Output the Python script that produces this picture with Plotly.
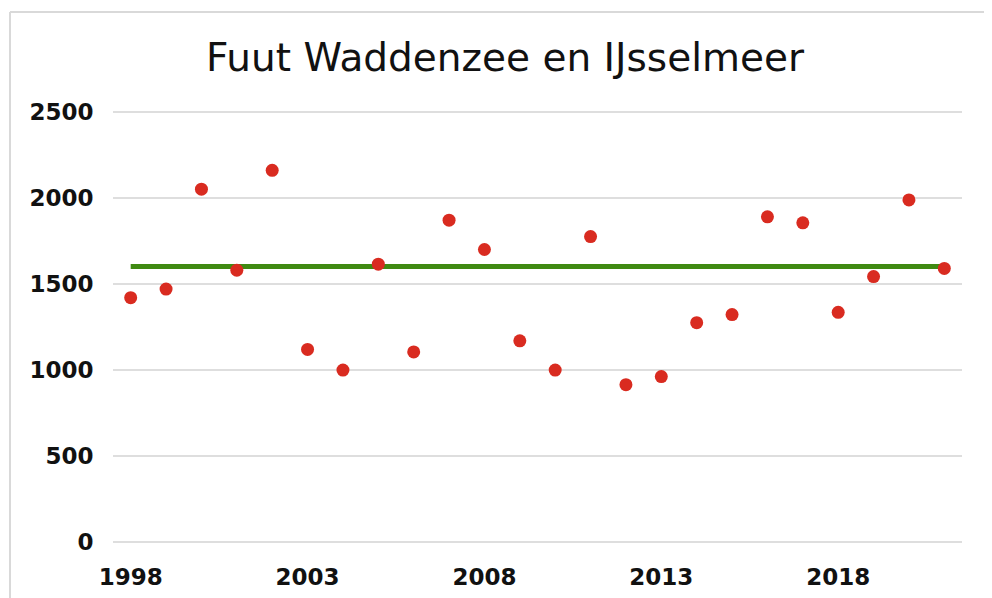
import plotly.graph_objects as go

years = list(range(1998, 2022))
counts = [1420, 1470, 2050, 1580, 2160, 1120, 1000, 1615, 1105, 1870,
          1700, 1170, 1000, 1775, 915, 962, 1275, 1322, 1890, 1855,
          1335, 1543, 1988, 1590]
mean_level = 1602
x_ticks = [1998, 2003, 2008, 2013, 2018]
y_ticks = [0, 500, 1000, 1500, 2000, 2500]
title_text = "Fuut Waddenzee en IJsselmeer"

fig = go.Figure()
fig.add_trace(go.Scatter(
    x=[years[0], years[-1]], y=[mean_level, mean_level], mode="lines",
    line=dict(color="#3f8a12", width=5), hoverinfo="skip", showlegend=False))
fig.add_trace(go.Scatter(
    x=years, y=counts, mode="markers",
    marker=dict(color="#d92b20", size=13, line=dict(width=0)),
    showlegend=False))

OFF = 8  # page body margin
W, H = 992 - OFF, 598 - OFF
L, R, T, B = 113 - OFF, 30, 102, 54
pw, ph = W - L - R, H - T - B
font = "DejaVu Sans"

fig.update_layout(
    width=W, height=H,
    margin=dict(l=L, r=R, t=T, b=B, autoexpand=False),
    paper_bgcolor="white", plot_bgcolor="white",
    title=dict(text=title_text, x=(505 - OFF) / W, xanchor="center",
               y=1 - (57 - OFF) / H, yanchor="middle",
               font=dict(family=font, size=39, color="#111111")),
    xaxis=dict(range=[1997.5, 2021.5], tickvals=x_ticks, ticktext=[str(v) for v in x_ticks],
               showgrid=False, zeroline=False, showline=False, automargin=False,
               ticks="outside", ticklen=12, tickcolor="rgba(0,0,0,0)",
               tickfont=dict(family=font, size=23, color="#111111", weight="bold")),
    yaxis=dict(range=[-10, 2510], tickvals=y_ticks, ticktext=[str(v) for v in y_ticks],
               showgrid=True, gridcolor="#dedede", gridwidth=2, zeroline=False, showline=False,
               automargin=False,
               ticks="outside", ticklen=14, tickcolor="rgba(0,0,0,0)",
               tickfont=dict(family=font, size=23, color="#111111", weight="bold")),
    shapes=[
        dict(type="line", xref="paper", yref="paper",
             x0=(10 - 113) / pw, x1=(W - L) / pw,
             y0=1 + (T - (12 - OFF)) / ph, y1=1 + (T - (12 - OFF)) / ph,
             line=dict(color="#d9d9d9", width=2)),
        dict(type="line", xref="paper", yref="paper",
             x0=(10 - 113) / pw, x1=(10 - 113) / pw,
             y0=1 + (T - (12 - OFF)) / ph, y1=-(B + 5) / ph,
             line=dict(color="#d9d9d9", width=2)),
    ],
)

fig.write_html("out.html")
